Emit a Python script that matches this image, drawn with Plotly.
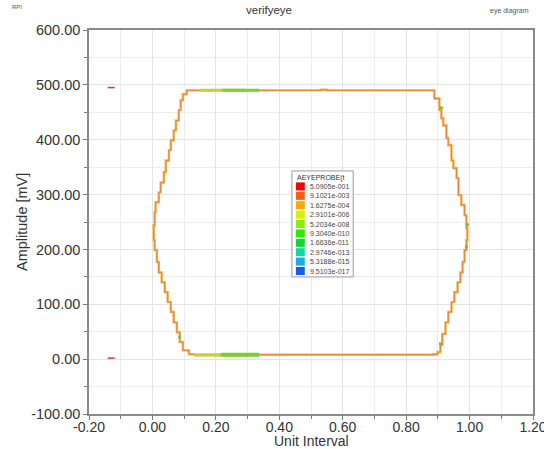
import plotly.graph_objects as go

# Eye contour (Unit Interval, Amplitude mV), traced clockwise from the top-left corner
top_x = [0.134, 0.30, 0.53, 0.55, 0.70, 0.889]
top_y = [490, 490, 490, 491, 490, 490]

right_x = [0.889, 0.905, 0.911, 0.917, 0.927, 0.933, 0.943, 0.949, 0.959, 0.965, 0.974,
           0.984, 0.990, 0.993, 0.990, 0.984, 0.978, 0.971, 0.962, 0.952, 0.943, 0.933,
           0.924, 0.914, 0.908, 0.899, 0.886]
right_y = [490, 475, 454, 439, 426, 403, 390, 362, 348, 330, 299,
           281, 262, 239, 217, 199, 177, 158, 140, 122, 104, 86,
           67, 46, 26, 13, 9]

bottom_x = [0.886, 0.70, 0.50, 0.30, 0.134]
bottom_y = [9, 8, 8, 8, 7]

left_x = [0.134, 0.115, 0.096, 0.086, 0.077, 0.067, 0.058, 0.048, 0.039, 0.029, 0.020,
          0.014, 0.007, 0.004, 0.007, 0.010, 0.020, 0.026, 0.036, 0.042, 0.052, 0.058,
          0.067, 0.074, 0.083, 0.089, 0.096, 0.108, 0.134]
left_y = [7, 9, 16, 31, 49, 67, 86, 104, 122, 140, 158,
          177, 199, 217, 244, 268, 286, 304, 322, 341, 362, 381,
          399, 417, 435, 454, 472, 483, 490]

# Higher-density stretches along the rails
hit_top_yel_x = [0.15, 0.29]
hit_top_yel_y = [490, 490]
hit_top_grn_x = [0.22, 0.336]
hit_top_grn_y = [490, 490]
hit_bot_yel_x = [0.13, 0.215]
hit_bot_yel_y = [8, 8]
hit_bot_grn_x = [0.215, 0.336]
hit_bot_grn_y = [8, 8]
spot_x = [0.911, 0.993, 0.990, 0.908, 0.086]
spot_y = [458, 245, 205, 28, 40]

# Markers outside the eye
marker_x = [-0.13, -0.13]
marker_y = [495, 2]

# Density scale legend
scale_title = "AEYEPROBE(t"
scale_labels = ["5.0905e-001", "9.1021e-003", "1.6275e-004", "2.9101e-006", "5.2034e-008",
                "9.3040e-010", "1.6636e-011", "2.9746e-013", "5.3188e-015", "9.5103e-017"]
scale_colors = ["#FF0000", "#FF5A10", "#FFA800", "#D8F000", "#88F000",
                "#30E800", "#10D830", "#10D8A0", "#10B0F0", "#1060F0"]

x_ticks = [-0.2, 0.0, 0.2, 0.4, 0.6, 0.8, 1.0, 1.2]
x_tick_text = ["-0.20", "0.00", "0.20", "0.40", "0.60", "0.80", "1.00", "1.20"]
y_ticks = [-100, 0, 100, 200, 300, 400, 500, 600]
y_tick_text = ["-100.00", "0.00", "100.00", "200.00", "300.00", "400.00", "500.00", "600.00"]

eye_x = top_x + right_x[1:] + bottom_x[1:] + left_x[1:]
eye_y = top_y + right_y[1:] + bottom_y[1:] + left_y[1:]

FONT = "Liberation Sans, Arial"

fig = go.Figure()
fig.add_trace(go.Scatter(x=eye_x, y=eye_y, mode="lines", line=dict(color="#F7B24E", width=2.4, shape="vh"),
                         hoverinfo="skip"))
fig.add_trace(go.Scatter(x=eye_x, y=eye_y, mode="lines", line=dict(color="#EA7E3A", width=0.9, shape="vh"),
                         hoverinfo="skip"))
fig.add_trace(go.Scatter(x=hit_top_yel_x, y=hit_top_yel_y, mode="lines", line=dict(color="#B8D838", width=3)))
fig.add_trace(go.Scatter(x=hit_top_grn_x, y=hit_top_grn_y, mode="lines", line=dict(color="#7CD030", width=3)))
fig.add_trace(go.Scatter(x=hit_bot_yel_x, y=hit_bot_yel_y, mode="lines", line=dict(color="#B8D838", width=3)))
fig.add_trace(go.Scatter(x=hit_bot_grn_x, y=hit_bot_grn_y, mode="lines", line=dict(color="#78D02C", width=4)))
fig.add_trace(go.Scatter(x=spot_x, y=spot_y, mode="markers",
                         marker=dict(color="#70C830", size=3, symbol="square")))
fig.add_trace(go.Scatter(x=marker_x, y=marker_y, mode="markers",
                         marker=dict(symbol="line-ew", size=5, line=dict(color="#E0304A", width=1.5))))

# Legend box for the density scale
x0, x1 = 0.457, 0.595
y_top, y_bot = 0.633, 0.357
shapes = [dict(type="rect", xref="paper", yref="paper", x0=x0, x1=x1, y0=y_bot, y1=y_top,
               line=dict(color="#9A9A9A", width=1), fillcolor="white", layer="above")]
annotations = [dict(text=scale_title, xref="paper", yref="paper", x=x0 + 0.008, y=y_top - 0.002,
                    xanchor="left", yanchor="top", showarrow=False,
                    font=dict(size=7, color="#333", family=FONT))]
row_h = 9.4 / 384
first = y_top - (186.5 - 171) / 384
for i, (lab, col) in enumerate(zip(scale_labels, scale_colors)):
    yc = first - i * row_h
    shapes.append(dict(type="rect", xref="paper", yref="paper", x0=x0 + 0.009, x1=x0 + 0.029,
                       y0=yc - 0.0105, y1=yc + 0.0105, line=dict(width=0), fillcolor=col, layer="above"))
    annotations.append(dict(text=lab, xref="paper", yref="paper", x=x0 + 0.037, y=yc,
                            xanchor="left", yanchor="middle", showarrow=False,
                            font=dict(size=7, color="#444", family=FONT)))

annotations += [
    dict(text="verifyeye", xref="paper", yref="paper", x=(269 - 89) / 444, y=1 + (30 - 10) / 384,
         xanchor="center", yanchor="middle", showarrow=False,
         font=dict(size=11.5, color="#333", family=FONT)),
    dict(text="RPI", xref="paper", yref="paper", x=(10 - 89) / 444, y=1 + (30 - 7) / 384,
         xanchor="left", yanchor="middle", showarrow=False,
         font=dict(size=6, color="#555", family=FONT)),
    dict(text="eye diagram", xref="paper", yref="paper", x=(488 - 89) / 444, y=1 + (30 - 11) / 384,
         xanchor="left", yanchor="middle", showarrow=False,
         font=dict(size=7, color="#555", family=FONT)),
    dict(text="Amplitude [mV]", xref="paper", yref="paper", x=(22 - 89) / 444, y=0.5,
         xanchor="center", yanchor="middle", textangle=-90, showarrow=False,
         font=dict(size=14.5, color="#333", family=FONT)),
    dict(text="Unit Interval", xref="paper", yref="paper", x=(311 - 89) / 444, y=-(441 - 414) / 384,
         xanchor="center", yanchor="middle", showarrow=False,
         font=dict(size=14, color="#333", family=FONT)),
]

axis_common = dict(
    showline=True, linecolor="#8A8A8A", linewidth=1.5, mirror=True,
    ticks="outside", ticklen=4, tickcolor="#7A7A7A", tickwidth=1,
    showgrid=True, gridcolor="#E4E4E4", gridwidth=1, zeroline=False, automargin=False,
    ticklabeloverflow="allow",
)

fig.update_xaxes(range=[-0.2, 1.2], tickvals=x_ticks, ticktext=x_tick_text, ticklabelstandoff=-5,
                 tickfont=dict(size=14, color="#333", family=FONT),
                 minor=dict(dtick=0.1, tick0=0, ticks="outside", ticklen=3, tickcolor="#7A7A7A",
                            showgrid=True, gridcolor="#EDEDED"),
                 **axis_common)
fig.update_yaxes(range=[-100, 600], tickvals=y_ticks, ticktext=y_tick_text,
                 tickfont=dict(size=14.5, color="#333", family=FONT),
                 minor=dict(dtick=50, tick0=0, ticks="outside", ticklen=3, tickcolor="#7A7A7A",
                            showgrid=True, gridcolor="#EDEDED"),
                 **axis_common)

fig.update_layout(
    width=544, height=449,
    margin=dict(l=89, r=11, t=30, b=35),
    paper_bgcolor="white", plot_bgcolor="white",
    showlegend=False,
    shapes=shapes, annotations=annotations,
)

fig.write_html("out.html")
